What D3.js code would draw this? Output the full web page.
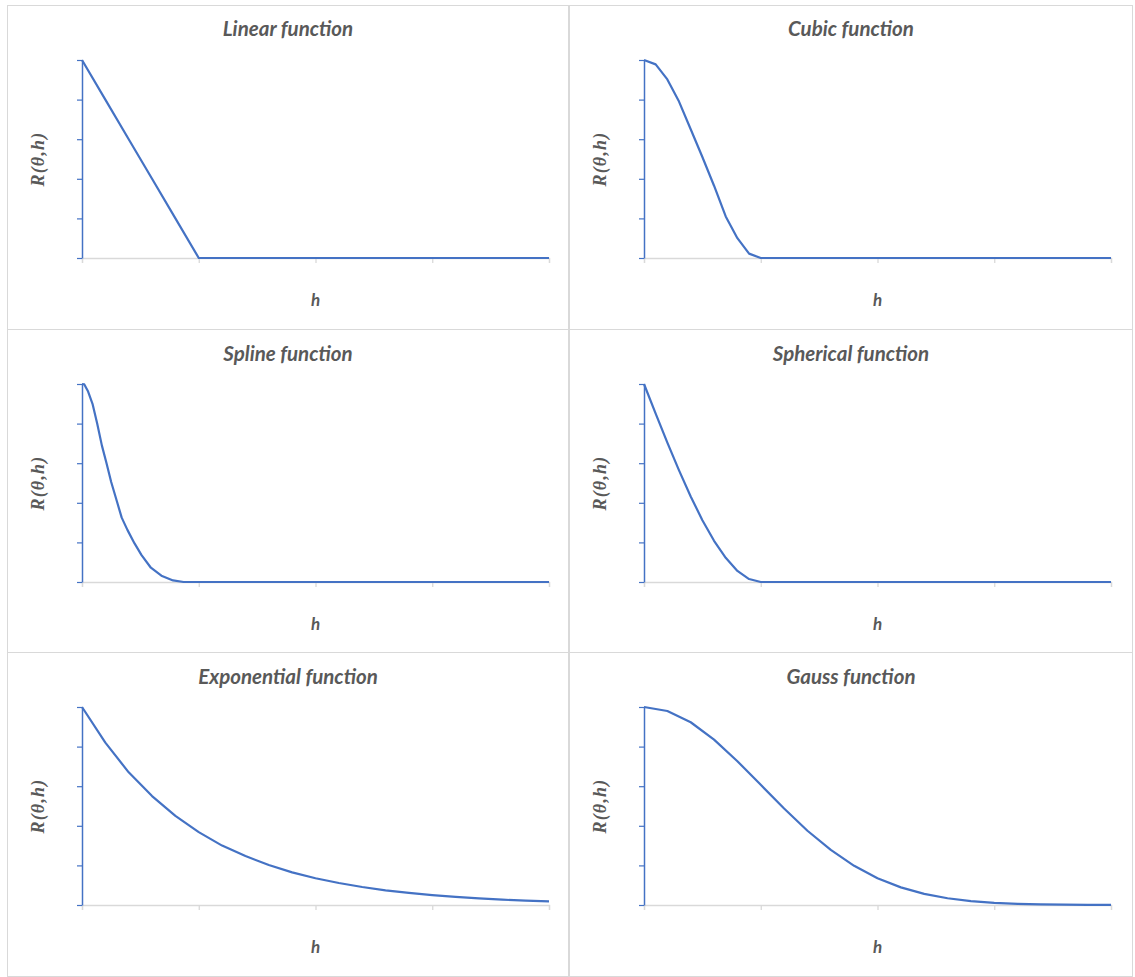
<!DOCTYPE html>
<html>
<head>
<meta charset="utf-8">
<script src="https://cdn.jsdelivr.net/npm/d3@7"></script>
<style>
  html, body { margin: 0; padding: 0; background: #fff; }
  svg { display: block; }
</style>
</head>
<body>
<svg id="chart" width="1135" height="977"></svg>
<script>
// ---- Data ----
const titles = ["Linear function", "Cubic function", "Spline function",
                "Spherical function", "Exponential function", "Gauss function"];
const xLabel = "h";
const yLabel = "R(θ,h)";
const xTicks = [0, 1, 2, 3, 4];
const yTicks = [0, 0.2, 0.4, 0.6, 0.8, 1];

const linearH = [0, 0.2, 0.4, 0.6, 0.8, 1, 2, 3, 4];
const linearR = [1, 0.8, 0.6, 0.4, 0.2, 0, 0, 0, 0];

const cubicH = [0, 0.1, 0.2, 0.3, 0.4, 0.5, 0.6, 0.7, 0.8, 0.9, 1, 2, 3, 4];
const cubicR = [1, 0.978, 0.902, 0.79, 0.65, 0.51, 0.365, 0.21, 0.1, 0.022, 0, 0, 0, 0];

const splineH = [0, 0.02, 0.05, 0.09, 0.13, 0.17, 0.21, 0.25, 0.3, 0.34, 0.39, 0.45, 0.51, 0.59, 0.68, 0.78, 0.87, 1, 2, 3, 4];
const splineR = [1, 0.998, 0.965, 0.9, 0.8, 0.69, 0.6, 0.505, 0.405, 0.325, 0.262, 0.195, 0.136, 0.072, 0.032, 0.008, 0, 0, 0, 0, 0];

const sphericalH = [0, 0.1, 0.2, 0.3, 0.4, 0.5, 0.6, 0.7, 0.8, 0.9, 1, 2, 3, 4];
const sphericalR = [1, 0.85, 0.704, 0.564, 0.432, 0.312, 0.208, 0.122, 0.056, 0.015, 0, 0, 0, 0];

const expH = [0, 0.2, 0.4, 0.6, 0.8, 1, 1.2, 1.4, 1.6, 1.8, 2, 2.2, 2.4, 2.6, 2.8, 3, 3.2, 3.4, 3.6, 3.8, 4];
const expR = [1, 0.82, 0.67, 0.55, 0.45, 0.368, 0.3, 0.247, 0.202, 0.165, 0.135, 0.111, 0.091, 0.074, 0.061, 0.05, 0.041, 0.033, 0.027, 0.022, 0.018];

const gaussH = [0, 0.2, 0.4, 0.6, 0.8, 1, 1.2, 1.4, 1.6, 1.8, 2, 2.2, 2.4, 2.6, 2.8, 3, 3.2, 3.4, 3.6, 3.8, 4];
const gaussR = [1, 0.98, 0.923, 0.835, 0.726, 0.607, 0.487, 0.375, 0.278, 0.198, 0.135, 0.089, 0.056, 0.034, 0.02, 0.011, 0.006, 0.003, 0.0015, 0.0007, 0.0003];

const seriesH = [linearH, cubicH, splineH, sphericalH, expH, gaussH];
const seriesR = [linearR, cubicR, splineR, sphericalR, expR, gaussR];

// ---- Layout ----
const svg = d3.select("#chart");
const colX = [7, 569];
const colW = [561, 563];
const rowY = [5, 329, 652];
const rowH = [324, 323, 324];
const lineColor = "#4472C4";
const textColor = "#595959";
const gridColor = "#d9d9d9";

titles.forEach((title, i) => {
  const col = i % 2, row = Math.floor(i / 2);
  const px = colX[col], py = rowY[row];
  const g = svg.append("g").attr("transform", `translate(${px},${py})`);

  g.append("rect")
    .attr("x", 0.5).attr("y", 0.5)
    .attr("width", colW[col]).attr("height", rowH[row])
    .attr("fill", "#fff").attr("stroke", gridColor).attr("stroke-width", 1);

  const left = 75, right = 542, top = 55, bottom = 253;
  const x = d3.scaleLinear().domain([0, 4]).range([left, right]);
  const y = d3.scaleLinear().domain([0, 1]).range([bottom, top]);

  // x axis (gray)
  const xa = g.append("g").attr("transform", `translate(0,${bottom})`)
    .call(d3.axisBottom(x).tickValues(xTicks).tickSize(5).tickFormat(""));
  xa.select(".domain").attr("stroke", gridColor).attr("stroke-width", 1.3);
  xa.selectAll(".tick line").attr("stroke", gridColor).attr("stroke-width", 1.3);

  // y axis (blue)
  const ya = g.append("g").attr("transform", `translate(${left},0)`)
    .call(d3.axisLeft(y).tickValues(yTicks).tickSize(5).tickSizeOuter(0).tickFormat(""));
  ya.select(".domain").attr("stroke", lineColor).attr("stroke-width", 1.5);
  ya.selectAll(".tick line").attr("stroke", lineColor).attr("stroke-width", 1.2);

  // series line
  const pts = seriesH[i].map((h, k) => [h, seriesR[i][k]]);
  g.append("path")
    .datum(pts)
    .attr("fill", "none")
    .attr("stroke", lineColor)
    .attr("stroke-width", 2.2)
    .attr("stroke-linejoin", "round")
    .attr("d", d3.line().x(d => x(d[0])).y(d => y(d[1])));

  // title
  g.append("text")
    .attr("x", colW[col] / 2 + 0.5).attr("y", row === 0 ? 31 : 32)
    .attr("text-anchor", "middle")
    .attr("font-family", "Lato, 'Open Sans', sans-serif")
    .attr("font-style", "italic").attr("font-weight", "bold")
    .attr("font-size", "20.5px").attr("fill", textColor)
    .text(title);

  // x label
  g.append("text")
    .attr("x", (left + right) / 2).attr("y", 301)
    .attr("text-anchor", "middle")
    .attr("font-family", "Lato, 'Open Sans', sans-serif")
    .attr("font-style", "italic").attr("font-weight", "bold")
    .attr("font-size", "17px").attr("fill", textColor)
    .text(xLabel);

  // y label
  g.append("text")
    .attr("transform", `translate(37,${(top + bottom) / 2}) rotate(-90)`)
    .attr("text-anchor", "middle")
    .attr("font-family", "'Liberation Serif', serif")
    .attr("font-style", "italic").attr("font-weight", "bold")
    .attr("font-size", "18px").attr("letter-spacing", "1.2px")
    .attr("fill", textColor)
    .text(yLabel);
});
</script>
</body>
</html>
